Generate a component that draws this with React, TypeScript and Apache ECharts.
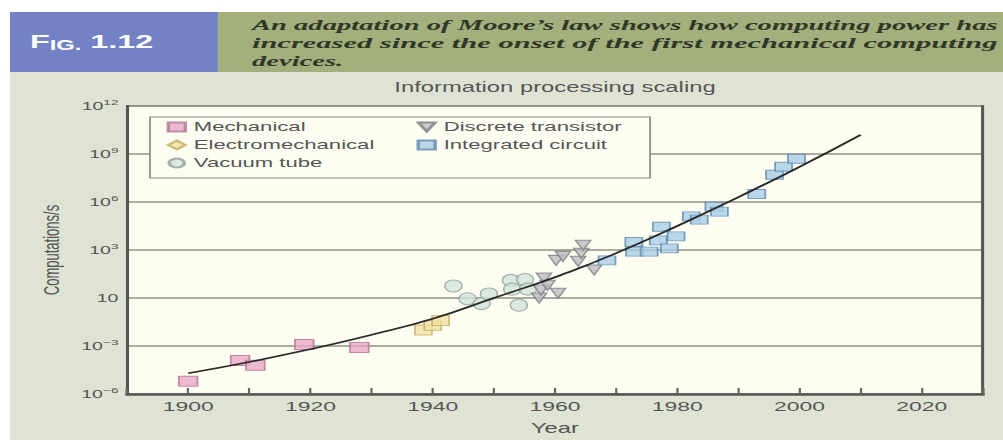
import React, { useEffect, useRef } from 'react';
import * as echarts from 'echarts';

// The reference is a horizontally stretched figure: draw at BASE_W and stretch by STRETCH.
const BASE_W = 590;
const H = 440;

// ---- Data (computations/s given as log10 values) ----
const mechanicalYears = [1900, 1908.5, 1911, 1919, 1928];
const mechanicalLog = [-5.2, -3.9, -4.2, -2.9, -3.1];

const electroYears = [1938.5, 1940, 1941.3];
const electroLog = [-2.0, -1.7, -1.4];

const vacuumYears = [1943.4, 1945.7, 1948, 1949.2, 1952.8, 1953, 1955.1, 1955.6, 1954.1];
const vacuumLog = [0.75, -0.05, -0.35, 0.25, 1.1, 0.55, 1.15, 0.55, -0.45];

const transistorYears = [1957.4, 1957.7, 1958.2, 1958.8, 1960.5, 1960.2, 1961.3, 1963.8, 1964.3, 1964.6, 1966.4];
const transistorLog = [0.0, 0.5, 1.25, 0.8, 0.3, 2.35, 2.6, 2.3, 2.8, 3.3, 1.75];

const icYears = [1968.5, 1972.9, 1973, 1975.4, 1977.4, 1976.9, 1978.7, 1979.8, 1982.3, 1983.6, 1986, 1986.9, 1993, 1995.9, 1997.4, 1999.5];
const icLog = [2.35, 3.5, 2.9, 2.9, 4.45, 3.6, 3.1, 3.85, 5.1, 4.9, 5.7, 5.4, 6.5, 7.7, 8.2, 8.7];

const fitYears = [1900, 1910, 1920, 1930, 1940, 1950, 1960, 1970, 1980, 1990, 2000, 2010];
const fitLog = [-4.7, -4.0, -3.2, -2.3, -1.3, 0.0, 1.3, 2.8, 4.5, 6.3, 8.2, 10.2];

const xTickLabels = ['1900', '1920', '1940', '1960', '1980', '2000', '2020'];
const yTickValues = [-6, -3, 0, 3, 6, 9, 12];
const yTickExponents = ['−6', '−3', '', '3', '6', '9', '12'];

const captionLines = [
  'An adaptation of Moore\u2019s law shows how computing power has',
  'increased since the onset of the first mechanical computing',
  'devices.',
];

const pairs = (xs: number[], ys: number[]) => xs.map((x, i) => [x, ys[i]]);

const SANS = '"Liberation Sans", Arial, sans-serif';
const CAPTION_FONT = 'italic bold 15.5px "Liberation Serif", "Times New Roman", serif';

function measure(text: string, font: string): number {
  const ctx = document.createElement('canvas').getContext('2d');
  if (!ctx) return text.length * 8;
  ctx.font = font;
  return ctx.measureText(text).width;
}

export default function App() {
  const ref = useRef<HTMLDivElement>(null);

  useEffect(() => {
    if (!ref.current) return;
    const chart = echarts.init(ref.current, undefined, { renderer: 'svg' });

    const capX = 148.2;
    const capW = 438.8;
    const s1 = capW / measure(captionLines[0], CAPTION_FONT);
    const s2 = capW / measure(captionLines[1], CAPTION_FONT);
    const capScales = [s1, s2, s1];
    const capY = [25, 43, 61];

    const gridLeft = 74.7;
    const gridRight = 11.8;
    const plotMid = gridLeft + (BASE_W - gridLeft - gridRight) / 2;

    const option: any = {
      animation: false,
      backgroundColor: '#dfe3d3',
      textStyle: { fontFamily: SANS },
      grid: {
        left: gridLeft,
        right: gridRight,
        top: 106,
        bottom: 43,
        show: true,
        backgroundColor: '#fdfdf2',
        borderColor: '#555',
        borderWidth: 1,
      },
      legend: [
        {
          orient: 'vertical',
          left: 98,
          top: 118,
          padding: 0,
          itemWidth: 10,
          itemHeight: 9,
          itemGap: 0,
          selectedMode: false,
          z: 6,
          textStyle: { fontSize: 13, color: '#555', lineHeight: 18, fontFamily: SANS },
          data: [
            { name: 'Mechanical', icon: 'rect' },
            { name: 'Electromechanical', icon: 'diamond' },
            { name: 'Vacuum tube', icon: 'circle' },
          ],
        },
        {
          orient: 'vertical',
          left: 245,
          top: 118,
          padding: 0,
          itemWidth: 10,
          itemHeight: 9,
          itemGap: 0,
          selectedMode: false,
          z: 6,
          textStyle: { fontSize: 13, color: '#555', lineHeight: 18, fontFamily: SANS },
          data: [
            { name: 'Discrete transistor', icon: 'path://M0,0L10,0L5,9Z' },
            { name: 'Integrated circuit', icon: 'rect' },
          ],
        },
      ],
      xAxis: {
        type: 'value',
        min: 1890,
        max: 2030,
        interval: 10,
        name: 'Year',
        nameLocation: 'middle',
        nameGap: 27,
        nameTextStyle: { fontSize: 14, color: '#555', fontFamily: SANS },
        axisLine: { show: true, onZero: false, lineStyle: { color: '#555', width: 2.5 } },
        axisTick: { show: true, inside: true, length: 6, lineStyle: { color: '#666', width: 1.3 } },
        axisLabel: {
          margin: 5,
          fontSize: 13.5,
          color: '#555',
          fontFamily: SANS,
          formatter: (v: number) => (xTickLabels.indexOf(String(v)) >= 0 ? String(v) : ''),
        },
        splitLine: { show: false },
      },
      yAxis: [
        {
          type: 'value',
          min: -6,
          max: 12,
          interval: 3,
          name: 'Computations/s',
          nameLocation: 'middle',
          nameGap: 38,
          nameTextStyle: { fontSize: 13, color: '#555', fontFamily: SANS },
          axisLine: { show: true, onZero: false, lineStyle: { color: '#555', width: 1.8 } },
          axisTick: { show: false },
          splitLine: { show: true, lineStyle: { color: '#8f8f85', width: 1.5 } },
          axisLabel: {
            margin: 5,
            color: '#555',
            formatter: (v: number) => {
              const i = yTickValues.indexOf(v);
              if (i < 0) return '';
              const e = yTickExponents[i];
              return '{b|10}' + (e ? '{s|' + e + '}' : '');
            },
            rich: {
              b: { fontSize: 11.5, lineHeight: 16, color: '#555', fontFamily: SANS },
              s: { fontSize: 8, lineHeight: 9, verticalAlign: 'top', color: '#555', fontFamily: SANS },
            },
          },
        },
        {
          type: 'value',
          position: 'right',
          min: -6,
          max: 12,
          interval: 3,
          axisLine: { show: true, onZero: false, lineStyle: { color: '#555', width: 1.8 } },
          axisTick: { show: false },
          axisLabel: { show: false },
          splitLine: { show: false },
        },
      ],
      series: [
        {
          name: 'Mechanical',
          type: 'scatter',
          symbol: 'rect',
          symbolSize: [11, 10],
          itemStyle: { color: '#e8a9c8', borderColor: '#b27594', borderWidth: 1 },
          data: pairs(mechanicalYears, mechanicalLog),
          z: 2,
        },
        {
          name: 'Electromechanical',
          type: 'scatter',
          symbol: 'rect',
          symbolSize: [10, 10],
          itemStyle: { color: '#f0e2a2', borderColor: '#c4ad62', borderWidth: 1 },
          data: pairs(electroYears, electroLog),
          z: 2,
        },
        {
          name: 'Vacuum tube',
          type: 'scatter',
          symbol: 'circle',
          symbolSize: [10, 12],
          itemStyle: { color: '#d3e3dc', borderColor: '#8ea39c', borderWidth: 1 },
          data: pairs(vacuumYears, vacuumLog),
          z: 2,
        },
        {
          name: 'Discrete transistor',
          type: 'scatter',
          symbol: 'triangle',
          symbolRotate: 180,
          symbolSize: [9, 10],
          itemStyle: { color: '#bcbcc0', borderColor: '#7c7c82', borderWidth: 1 },
          data: pairs(transistorYears, transistorLog),
          z: 2,
        },
        {
          name: 'Integrated circuit',
          type: 'scatter',
          symbol: 'rect',
          symbolSize: [10, 9],
          itemStyle: { color: '#a9cde6', borderColor: '#5b89aa', borderWidth: 1 },
          data: pairs(icYears, icLog),
          z: 2,
        },
        {
          name: 'Fit',
          type: 'line',
          smooth: true,
          showSymbol: false,
          lineStyle: { color: '#2a2a2a', width: 1.6 },
          data: pairs(fitYears, fitLog),
          z: 3,
        },
      ],
      graphic: {
        elements: [
          { type: 'rect', shape: { x: 0, y: 0, width: BASE_W, height: 12 }, style: { fill: '#ffffff' }, silent: true },
          { type: 'rect', shape: { x: 0, y: 0, width: 5.9, height: H }, style: { fill: '#ffffff' }, silent: true },
          { type: 'rect', shape: { x: 5.9, y: 12, width: 122.3, height: 60 }, style: { fill: '#7282c5' }, silent: true },
          { type: 'rect', shape: { x: 128.2, y: 12, width: BASE_W - 128.2, height: 60 }, style: { fill: '#a3af7c' }, silent: true },
          {
            type: 'text',
            x: 17.6,
            y: 42,
            silent: true,
            style: {
              text: '{a|F}{b|IG.}{a| 1.12}',
              verticalAlign: 'middle',
              textVerticalAlign: 'middle',
              rich: {
                a: { fontSize: 19, fontWeight: 'bold', fill: '#ffffff', color: '#ffffff', lineHeight: 20, fontFamily: SANS },
                b: { fontSize: 14, fontWeight: 'bold', fill: '#ffffff', color: '#ffffff', lineHeight: 16, verticalAlign: 'bottom', fontFamily: SANS },
              },
            },
          },
          ...captionLines.map((t, i) => ({
            type: 'text',
            x: capX,
            y: capY[i],
            scaleX: capScales[i],
            silent: true,
            style: {
              text: t,
              font: CAPTION_FONT,
              fill: '#2f3827',
              align: 'left',
              textAlign: 'left',
              verticalAlign: 'middle',
              textVerticalAlign: 'middle',
            },
          })),
          {
            type: 'text',
            x: plotMid,
            y: 87,
            silent: true,
            style: {
              text: 'Information processing scaling',
              font: '14px ' + SANS,
              fill: '#555',
              align: 'center',
              textAlign: 'center',
              verticalAlign: 'middle',
              textVerticalAlign: 'middle',
            },
          },
          {
            type: 'rect',
            z: 5,
            silent: true,
            shape: { x: 88.2, y: 117, width: 294.2, height: 61 },
            style: { fill: '#fdfdf2', stroke: '#8a8a8a', lineWidth: 1 },
          },
        ],
      },
    };

    chart.setOption(option);
    return () => chart.dispose();
  }, []);

  return (
    <div style={{ position: 'absolute', left: 0, top: 0, width: 1003, height: H, overflow: 'hidden', background: '#fff' }}>
      <div
        ref={ref}
        style={{ width: BASE_W, height: H, transform: `scaleX(${1003 / BASE_W})`, transformOrigin: '0 0' }}
      />
    </div>
  );
}
